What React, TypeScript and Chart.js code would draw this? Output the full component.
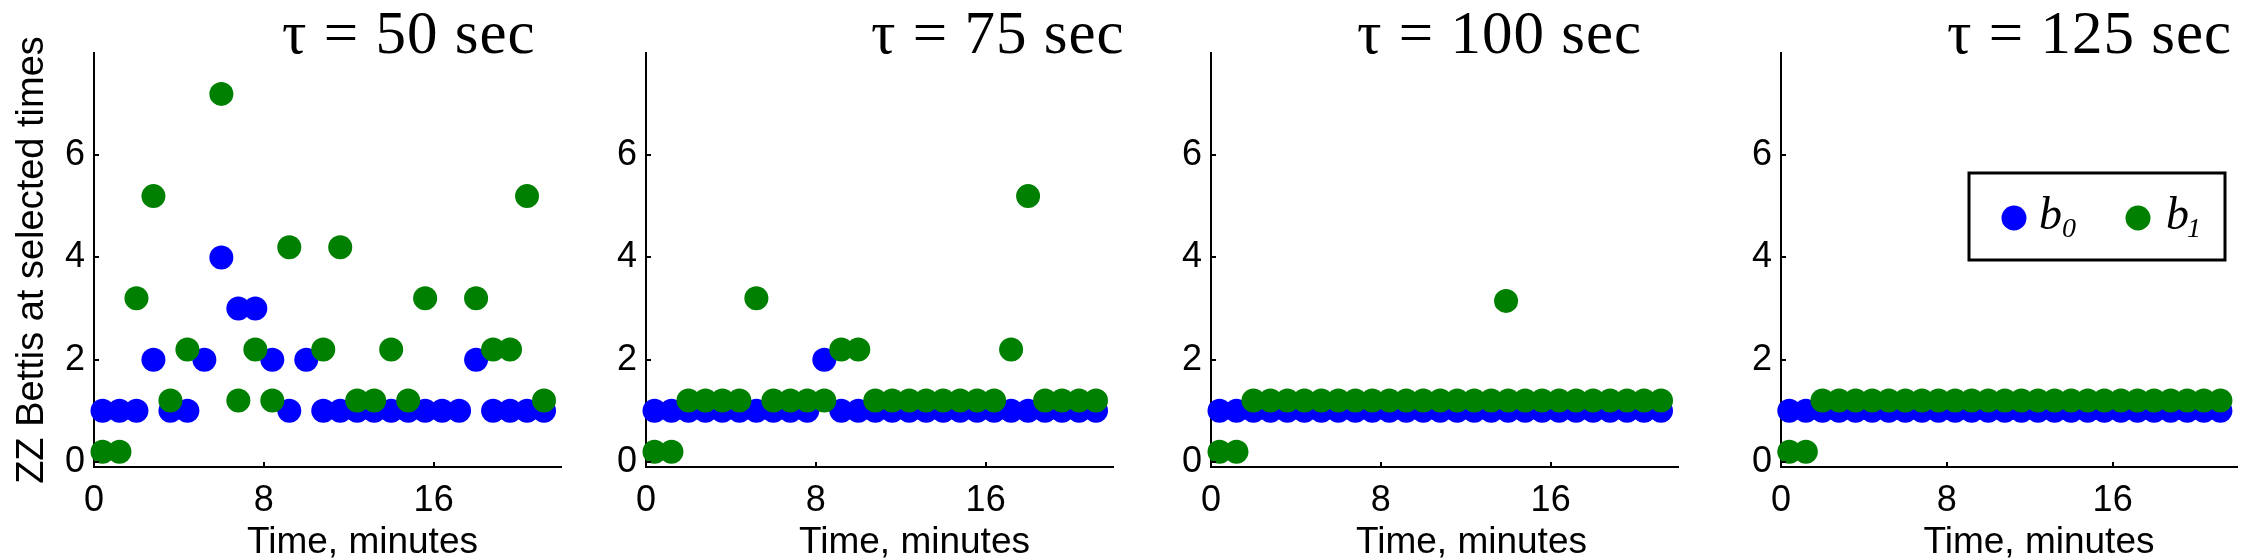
import React, { useEffect, useRef } from "react";
import { Chart, registerables } from "chart.js";

Chart.register(...registerables);

// ---------------- data ----------------
const TIMES_MIN = [
  0.4, 1.2, 2.0, 2.8, 3.6, 4.4, 5.2, 6.0, 6.8, 7.6, 8.4, 9.2, 10.0, 10.8,
  11.6, 12.4, 13.2, 14.0, 14.8, 15.6, 16.4, 17.2, 18.0, 18.8, 19.6, 20.4, 21.2,
];

const TAU50_B0 = [1, 1, 1, 2, 1, 1, 2, 4, 3, 3, 2, 1, 2, 1, 1, 1, 1, 1, 1, 1, 1, 1, 2, 1, 1, 1, 1];
const TAU50_B1 = [0, 0, 3, 5, 1, 2, null, 7, 1, 2, 1, 4, null, 2, 4, 1, 1, 2, 1, 3, null, null, 3, 2, 2, 5, 1];

const TAU75_B0 = [1, 1, 1, 1, 1, 1, 1, 1, 1, 1, 2, 1, 1, 1, 1, 1, 1, 1, 1, 1, 1, 1, 1, 1, 1, 1, 1];
const TAU75_B1 = [0, 0, 1, 1, 1, 1, 3, 1, 1, 1, 1, 2, 2, 1, 1, 1, 1, 1, 1, 1, 1, 2, 5, 1, 1, 1, 1];

const TAU100_B0 = [1, 1, 1, 1, 1, 1, 1, 1, 1, 1, 1, 1, 1, 1, 1, 1, 1, 1, 1, 1, 1, 1, 1, 1, 1, 1, 1];
const TAU100_B1 = [0, 0, 1, 1, 1, 1, 1, 1, 1, 1, 1, 1, 1, 1, 1, 1, 1, 1, 1, 1, 1, 1, 1, 1, 1, 1, 1];
const TAU100_EXTRA_T = [13.9];
const TAU100_EXTRA_B1 = [2.95];

const TAU125_B0 = [1, 1, 1, 1, 1, 1, 1, 1, 1, 1, 1, 1, 1, 1, 1, 1, 1, 1, 1, 1, 1, 1, 1, 1, 1, 1, 1];
const TAU125_B1 = [0, 0, 1, 1, 1, 1, 1, 1, 1, 1, 1, 1, 1, 1, 1, 1, 1, 1, 1, 1, 1, 1, 1, 1, 1, 1, 1];

// b1 is drawn slightly above b0 so the two series don't hide each other
const B1_OFFSET = 0.2;

const X_TICKS = [0, 8, 16];
const Y_TICKS = [0, 2, 4, 6];
const X_MIN = 0;
const X_MAX = 22;
const Y_MIN = -0.1;
const Y_MAX = 8;

const TITLES = ["τ = 50 sec", "τ = 75 sec", "τ = 100 sec", "τ = 125 sec"];
const X_LABEL = "Time, minutes";
const Y_LABEL = "ZZ Bettis at selected times";
const LEGEND_LABELS = ["0", "1"];

// ---------------- layout / style ----------------
const W_TOTAL = 2249;
const H_TOTAL = 559;
const PLOT_TOP = 53;
const PLOT_BOTTOM = 467;
const PLOT_W = 467;
const AXIS_LEFT = [94, 646, 1211, 1781];
const Y_AXIS_W = [94, 60, 60, 60];
const RIGHT_PAD = [20, 20, 20, 1];
const TITLE_DX = [188, 225, 146, 166];
const XLABEL_DX = [35, 35, 27, 30];

const BLUE = "#0000ff";
const GREEN = "#008000";
const SANS = '"Liberation Sans", Arial, sans-serif';
const SERIF = '"Liberation Serif", "Times New Roman", serif';

type PanelSpec = {
  title: string;
  b0: (number | null)[];
  b1: (number | null)[];
  extraT: number[];
  extraB1: number[];
};

const PANELS: PanelSpec[] = [
  { title: TITLES[0], b0: TAU50_B0, b1: TAU50_B1, extraT: [], extraB1: [] },
  { title: TITLES[1], b0: TAU75_B0, b1: TAU75_B1, extraT: [], extraB1: [] },
  { title: TITLES[2], b0: TAU100_B0, b1: TAU100_B1, extraT: TAU100_EXTRA_T, extraB1: TAU100_EXTRA_B1 },
  { title: TITLES[3], b0: TAU125_B0, b1: TAU125_B1, extraT: [], extraB1: [] },
];

function makeDeco(index: number, spec: PanelSpec) {
  return {
    id: "deco" + index,
    afterDraw(chart: any) {
      const { ctx, chartArea, scales } = chart;
      const xs = scales.x;
      const ys = scales.y;
      ctx.save();
      // inward tick marks
      ctx.strokeStyle = "#000";
      ctx.lineWidth = 2;
      ctx.beginPath();
      X_TICKS.forEach((v) => {
        const px = Math.round(xs.getPixelForValue(v));
        ctx.moveTo(px, chartArea.bottom);
        ctx.lineTo(px, chartArea.bottom - 5);
      });
      Y_TICKS.forEach((v) => {
        const py = Math.round(ys.getPixelForValue(v));
        ctx.moveTo(chartArea.left, py);
        ctx.lineTo(chartArea.left + 5, py);
      });
      ctx.stroke();

      // panel title
      ctx.fillStyle = "#000";
      ctx.textAlign = "left";
      ctx.textBaseline = "alphabetic";
      ctx.font = `61px ${SERIF}`;
      try {
        (ctx as any).letterSpacing = "1px";
      } catch (e) {}
      ctx.fillText(spec.title, chartArea.left + TITLE_DX[index], 53);
      try {
        (ctx as any).letterSpacing = "0px";
      } catch (e) {}

      // x label
      ctx.textAlign = "center";
      ctx.font = `37px ${SANS}`;
      ctx.fillText(X_LABEL, (chartArea.left + chartArea.right) / 2 + XLABEL_DX[index], 553);

      // legend (last panel)
      if (index === 3) {
        const L = chartArea.left;
        ctx.lineWidth = 3;
        ctx.strokeStyle = "#000";
        ctx.strokeRect(L + 188, 173, 256, 87);
        const my = 218;
        const items = [
          { color: BLUE, mx: L + 233, bx: L + 258, sx: L + 281, sub: LEGEND_LABELS[0] },
          { color: GREEN, mx: L + 357, bx: L + 385, sx: L + 406, sub: LEGEND_LABELS[1] },
        ];
        items.forEach((it) => {
          ctx.fillStyle = it.color;
          ctx.beginPath();
          ctx.arc(it.mx, my, 12.5, 0, Math.PI * 2);
          ctx.fill();
          ctx.fillStyle = "#000";
          ctx.textAlign = "left";
          ctx.font = `italic 46px ${SERIF}`;
          ctx.fillText("b", it.bx, 229);
          ctx.font = `italic 28px ${SERIF}`;
          ctx.fillText(it.sub, it.sx, 237);
        });
      }
      ctx.restore();
    },
  };
}

function Panel({ index, spec }: { index: number; spec: PanelSpec }) {
  const ref = useRef<HTMLCanvasElement | null>(null);
  const yw = Y_AXIS_W[index];
  const left = AXIS_LEFT[index] - yw;
  const width = yw + PLOT_W + RIGHT_PAD[index];

  useEffect(() => {
    if (!ref.current) return;
    const b0Data = TIMES_MIN.map((t, i) => ({ x: t, y: spec.b0[i] })).filter((p) => p.y !== null);
    const b1Data = TIMES_MIN.map((t, i) => ({
      x: t,
      y: spec.b1[i] === null ? null : (spec.b1[i] as number) + B1_OFFSET,
    })).filter((p) => p.y !== null);
    spec.extraT.forEach((t, i) => b1Data.push({ x: t, y: spec.extraB1[i] + B1_OFFSET }));

    const chart = new Chart(ref.current, {
      type: "scatter",
      data: {
        datasets: [
          {
            label: "b0",
            data: b0Data as any,
            backgroundColor: BLUE,
            borderColor: BLUE,
            borderWidth: 0,
            pointRadius: 12,
            pointHoverRadius: 12,
            pointStyle: "circle",
            clip: false as any,
            order: 2,
          },
          {
            label: "b1",
            data: b1Data as any,
            backgroundColor: GREEN,
            borderColor: GREEN,
            borderWidth: 0,
            pointRadius: 12,
            pointHoverRadius: 12,
            pointStyle: "circle",
            clip: false as any,
            order: 1,
          },
        ],
      },
      options: {
        animation: false,
        responsive: false,
        devicePixelRatio: 1,
        events: [],
        layout: { padding: { top: PLOT_TOP, right: RIGHT_PAD[index], bottom: 0, left: 0 } },
        plugins: {
          legend: { display: false },
          tooltip: { enabled: false },
          title: { display: false },
        },
        scales: {
          x: {
            type: "linear",
            min: X_MIN,
            max: X_MAX,
            afterBuildTicks: (s: any) => {
              s.ticks = X_TICKS.map((v) => ({ value: v }));
            },
            afterFit: (s: any) => {
              s.height = H_TOTAL - PLOT_BOTTOM;
            },
            ticks: {
              color: "#000",
              font: { family: SANS, size: 36 },
              padding: 12,
              maxRotation: 0,
              autoSkip: false,
            },
            grid: { display: false, drawTicks: false },
            border: { display: true, color: "#000", width: 2 },
          },
          y: {
            type: "linear",
            min: Y_MIN,
            max: Y_MAX,
            afterBuildTicks: (s: any) => {
              s.ticks = Y_TICKS.map((v) => ({ value: v }));
            },
            afterFit: (s: any) => {
              s.width = yw;
            },
            ticks: {
              color: "#000",
              font: { family: SANS, size: 36 },
              padding: 9,
              autoSkip: false,
            },
            grid: { display: false, drawTicks: false },
            border: { display: true, color: "#000", width: 2 },
            title: {
              display: index === 0,
              text: Y_LABEL,
              color: "#000",
              font: { family: SANS, size: 38, lineHeight: 1 },
              padding: { top: 14, bottom: 0 },
            },
          },
        },
      },
      plugins: [makeDeco(index, spec)],
    } as any);
    return () => chart.destroy();
  }, [index, spec, yw]);

  return (
    <canvas
      ref={ref}
      width={width}
      height={H_TOTAL}
      style={{ position: "absolute", left, top: 0, width, height: H_TOTAL, display: "block" }}
    />
  );
}

export default function App() {
  useEffect(() => {
    document.body.style.margin = "0";
    document.body.style.overflow = "hidden";
  }, []);
  return (
    <div style={{ position: "relative", width: W_TOTAL, height: H_TOTAL, overflow: "hidden", background: "#fff" }}>
      {PANELS.map((p, i) => (
        <Panel key={i} index={i} spec={p} />
      ))}
    </div>
  );
}
